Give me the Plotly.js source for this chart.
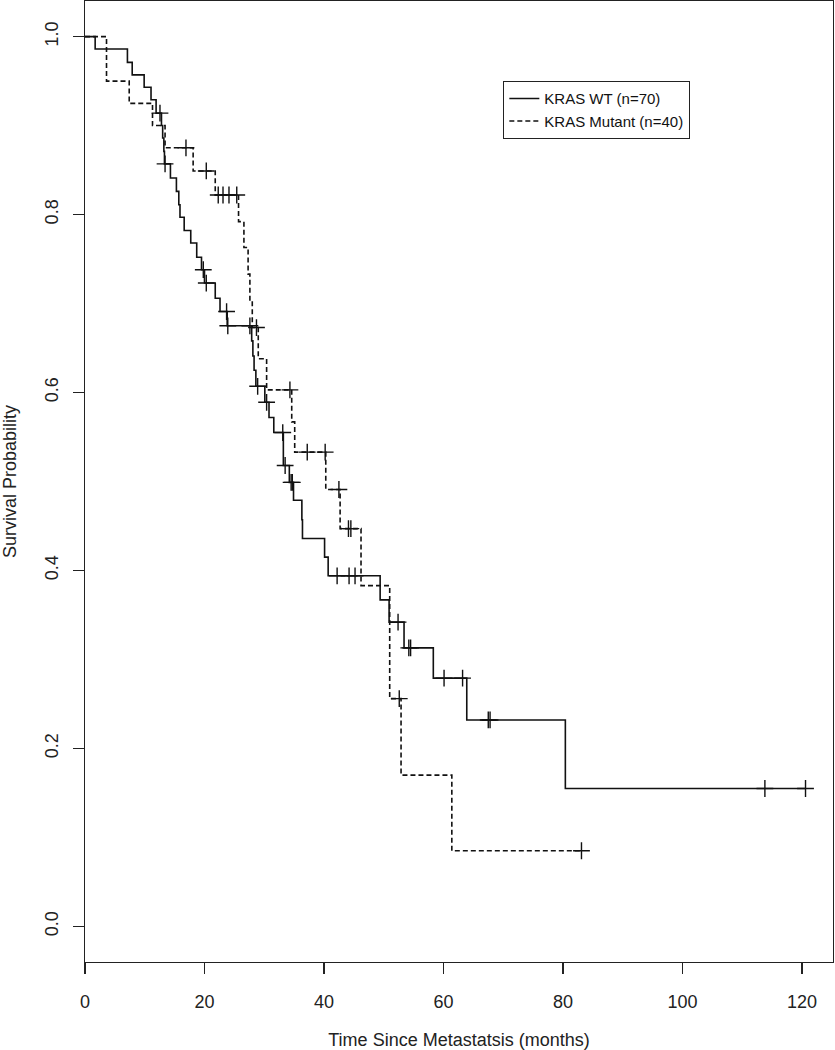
<!DOCTYPE html>
<html>
<head>
<meta charset="utf-8">
<script src="https://cdn.plot.ly/plotly-3.0.1.min.js"></script>
<style>
  html, body { margin: 0; padding: 0; background: #fff; }
  #chart { width: 835px; height: 1050px; }
</style>
</head>
<body>
<div id="chart"></div>
<script>
// KRAS wild-type (n=70): event times (months) and survival after each event
const wtTimes = [0, 1.7, 7.1, 7.9, 9.9, 11.05, 11.9, 12.8, 13.0, 13.2, 13.3, 14.3, 15.3, 15.7, 15.9, 16.6, 17.7, 18.7, 19.5, 20.0, 21.8, 22.6, 23.8, 27.9, 28.1, 28.3, 28.6, 30.1, 30.8, 31.6, 33.2, 34.2, 34.9, 36.3, 36.4, 40.1, 40.7, 49.4, 50.9, 53.4, 58.3, 63.9, 80.4];
const wtSurv  = [1, 0.986, 0.971, 0.957, 0.943, 0.929, 0.914, 0.900, 0.886, 0.871, 0.857, 0.841, 0.826, 0.811, 0.797, 0.782, 0.768, 0.752, 0.738, 0.723, 0.706, 0.691, 0.675, 0.658, 0.641, 0.625, 0.607, 0.589, 0.572, 0.555, 0.518, 0.499, 0.479, 0.457, 0.436, 0.415, 0.394, 0.367, 0.342, 0.313, 0.279, 0.232, 0.155];
const wtCensor = [12.55, 13.4, 19.8, 20.3, 23.7, 23.9, 27.6, 28.9, 30.4, 33.1, 33.5, 34.5, 34.7, 42.2, 44.2, 45.2, 52.4, 54.2, 54.5, 60.1, 63.2, 67.5, 67.8, 113.8, 120.6];

// KRAS mutant (n=40)
const mutTimes = [0, 3.6, 7.4, 11.3, 13.4, 18.1, 21.8, 25.7, 26.6, 27.3, 27.6, 28.0, 29.0, 30.4, 34.6, 35.1, 40.3, 42.7, 46.2, 51.0, 52.9, 61.4];
const mutSurv  = [1, 0.95, 0.925, 0.9, 0.875, 0.849, 0.822, 0.792, 0.763, 0.733, 0.703, 0.673, 0.638, 0.603, 0.567, 0.533, 0.491, 0.447, 0.383, 0.256, 0.170, 0.085];
const mutCensor = [16.9, 20.3, 22.3, 23.1, 24.1, 25.4, 28.7, 34.3, 37.2, 40.2, 42.5, 44.1, 44.5, 52.6, 83.1];

const seriesNames = ["KRAS WT (n=70)", "KRAS Mutant (n=40)"];
const xTickVals = [0, 20, 40, 60, 80, 100, 120];
const yTickVals = [0, 0.2, 0.4, 0.6, 0.8, 1.0];

function survAt(times, surv, t) {
  let s = surv[0];
  for (let i = 0; i < times.length; i++) { if (times[i] <= t) s = surv[i]; }
  return s;
}
function extend(times, surv, censor) {
  const last = censor[censor.length - 1];
  const x = times.slice(), y = surv.slice();
  if (last > x[x.length - 1]) { x.push(last); y.push(y[y.length - 1]); }
  return {x, y};
}

const ink = '#111';
const wtLine = extend(wtTimes, wtSurv, wtCensor);
const mutLine = extend(mutTimes, mutSurv, mutCensor);

const markerStyle = {symbol: 'cross-thin-open', size: 12, color: ink, line: {color: ink, width: 1.4}};

const data = [
  {x: wtLine.x, y: wtLine.y, type: 'scatter', mode: 'lines', line: {shape: 'hv', color: ink, width: 1.6}, name: seriesNames[0]},
  {x: mutLine.x, y: mutLine.y, type: 'scatter', mode: 'lines', line: {shape: 'hv', color: ink, width: 1.6, dash: '5px,3px'}, name: seriesNames[1]},
  {x: wtCensor, y: wtCensor.map(t => survAt(wtTimes, wtSurv, t)), type: 'scatter', mode: 'markers', marker: markerStyle, showlegend: false, hoverinfo: 'skip'},
  {x: mutCensor, y: mutCensor.map(t => survAt(mutTimes, mutSurv, t)), type: 'scatter', mode: 'markers', marker: markerStyle, showlegend: false, hoverinfo: 'skip'}
];

const font = {family: 'Liberation Sans, Arial, sans-serif', size: 18, color: '#222'};

const layout = {
  width: 835, height: 1050,
  margin: {l: 85, r: 2, t: 1, b: 88, pad: 0},
  paper_bgcolor: '#fff', plot_bgcolor: '#fff',
  font: font,
  showlegend: true,
  legend: {
    x: 0.559, y: 0.9167, xanchor: 'left', yanchor: 'top',
    bordercolor: '#222', borderwidth: 1.2, bgcolor: '#fff',
    font: {family: 'Liberation Sans, Arial, sans-serif', size: 15, color: '#111'},
    itemwidth: 30, tracegroupgap: 0
  },
  xaxis: {
    range: [0, 125.2], tickvals: xTickVals, ticktext: xTickVals.map(String),
    showgrid: false, zeroline: false,
    showline: true, mirror: true, linecolor: '#222', linewidth: 1.3,
    ticks: 'outside', ticklen: 11, tickwidth: 1.3, tickcolor: '#222',
    ticklabelstandoff: 12,
    title: {text: 'Time Since Metastatsis (months)', font: font, standoff: 22},
    automargin: false
  },
  yaxis: {
    range: [-0.04, 1.04], tickvals: yTickVals, tickformat: '.1f',
    tickangle: -90,
    showgrid: false, zeroline: false,
    showline: true, mirror: true, linecolor: '#222', linewidth: 1.3,
    ticks: 'outside', ticklen: 11, tickwidth: 1.3, tickcolor: '#222',
    ticklabelstandoff: 8,
    title: {text: 'Survival Probability', font: font, standoff: 20},
    automargin: false
  }
};

Plotly.newPlot('chart', data, layout, {displayModeBar: false, staticPlot: true});
</script>
</body>
</html>
